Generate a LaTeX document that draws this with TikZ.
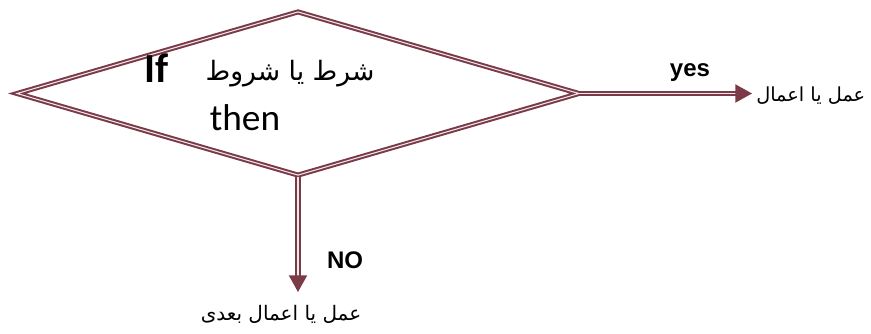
\documentclass[tikz,border=0pt]{standalone}
\usepackage{fontspec}
\usetikzlibrary{shapes.geometric,arrows.meta}
\setmainfont{Carlito}
\newfontfamily\arialfont{Liberation Sans}
\newfontfamily\arabicfont[Script=Arabic]{DejaVu Sans}
\TeXXeTstate=1
\definecolor{flowred}{RGB}{122,58,72}
\begin{document}
\begin{tikzpicture}[x=0.75pt,y=-0.75pt]
            \tikzstyle{decision}=[draw=flowred,double=flowred!12,line width=1.5pt,double distance=0.8pt,diamond,inner sep=0pt,minimum width=422pt,minimum height=123pt]
            \tikzstyle{flow}=[draw=flowred,double=flowred!12,line width=1.5pt,double distance=0.8pt,-{Triangle[length=12.5pt,width=13.5pt]}]
            \tikzstyle{answer}=[font=\arialfont\bfseries\fontsize{18}{20}\selectfont,inner sep=0pt]

            \useasboundingbox (0,0) rectangle (871,333);

            \node (cond) at (298,93.5) [decision] {};
            \node (ifword) at (157,82) [anchor=base,inner sep=0pt,font=\bfseries\fontsize{31}{34}\selectfont] {If};
            \node (condtext) at (290,80) [anchor=base,inner sep=0pt,font=\arabicfont\fontsize{20}{24}\selectfont] {\beginR شرط یا شروط\endR};
            \node (thenword) at (245,130) [anchor=base,inner sep=0pt,font=\fontsize{28}{30}\selectfont] {then};

            \node (act1) at (752,96) [anchor=west,inner sep=3pt,font=\arabicfont\fontsize{14.5}{17}\selectfont] {\beginR عمل یا اعمال\endR};
            \node (act2) at (281,292) [anchor=north,inner xsep=2pt,inner ysep=9.5pt,font=\arabicfont\fontsize{15}{18}\selectfont] {\beginR عمل یا اعمال بعدی\endR};

            \node (yes) at (690,76) [answer,anchor=base] {yes};
            \node (no) at (345,268) [answer,anchor=base] {NO};

            \draw[flow] (cond.east) to (cond.east -| act1.west);
            \draw[flow] (cond.south) to (cond.south |- act2.north);
          \end{tikzpicture}
\end{document}
